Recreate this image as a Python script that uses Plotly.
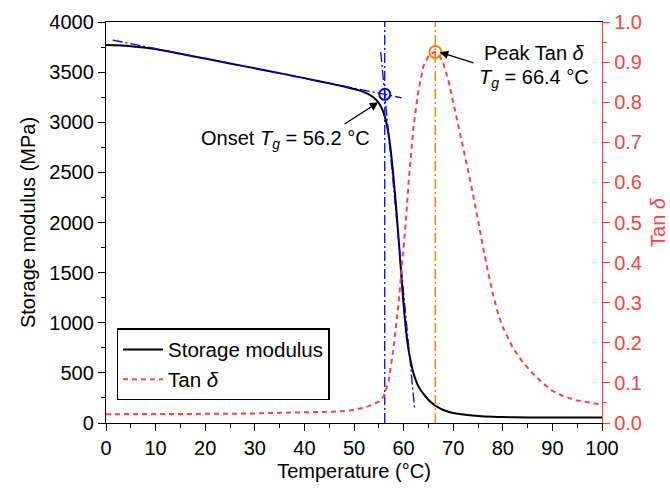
import plotly.graph_objects as go

# ---------------- data ----------------
temp_E = [0, 2, 4, 6, 8, 10, 15, 20, 25, 30, 35, 40, 45, 48, 50, 51, 52, 53, 54, 54.5, 55, 55.5,
          56, 56.5, 57, 57.5, 58, 58.5, 59, 59.5, 60, 60.5, 61, 61.5, 62, 62.5, 63, 64, 65,
          66, 67, 68, 69, 70, 72, 75, 78, 80, 85, 90, 95, 100]
storage_modulus = [3770, 3768, 3762, 3752, 3742, 3730, 3683, 3635, 3587, 3538, 3490, 3440, 3388,
                   3356, 3332, 3318, 3300, 3278, 3245, 3222, 3192, 3150, 3090, 3000, 2870, 2680,
                   2430, 2150, 1830, 1500, 1180, 920, 730, 600, 495, 420, 365, 290, 232, 188, 155,
                   130, 113, 100, 84, 70, 62, 59, 56, 55, 55, 56]

temp_tan = [0, 5, 10, 15, 20, 25, 30, 35, 40, 45, 48, 50, 52, 54, 55, 56, 57, 58, 59, 60, 60.5,
            61, 61.5, 62, 63, 64, 65, 66, 66.4, 67, 68, 69, 70, 71, 72, 73, 74, 75, 76, 77, 78,
            79, 80, 82, 84, 86, 88, 90, 92, 95, 100]
tan_delta = [0.022, 0.022, 0.022, 0.022, 0.023, 0.023, 0.024, 0.025, 0.026, 0.028, 0.030, 0.033,
             0.038, 0.047, 0.054, 0.066, 0.105, 0.19, 0.30, 0.43, 0.51, 0.60, 0.67, 0.74, 0.83,
             0.89, 0.915, 0.924, 0.925, 0.921, 0.897, 0.856, 0.80, 0.745, 0.69, 0.63, 0.57, 0.50,
             0.44, 0.378, 0.322, 0.275, 0.238, 0.188, 0.152, 0.124, 0.100, 0.080, 0.068, 0.056,
             0.046]

onset_tg = 56.2
onset_E = 3279
peak_tg = 66.4
peak_tan = 0.925

glassy_tangent_T = [1.35, 59.6]
glassy_tangent_E = [3820, 3244]
steep_tangent_T = [55.39, 62.25]
steep_tangent_E = [3700, 130]

x_ticks = list(range(0, 101, 10))
y1_ticks = list(range(0, 4001, 500))
y2_ticks = [round(i * 0.1, 1) for i in range(11)]

# ---------------- style ----------------
FONT = "Arial, Liberation Sans, sans-serif"
RED = "#ff4040"
BLUE = "#0000ff"
ORANGE = "#ff8000"
DASHDOT = "10px,3px,2px,3px"

fig = go.Figure()

fig.add_trace(go.Scatter(x=temp_tan, y=tan_delta, yaxis="y2", mode="lines",
                         name="Tan <i>δ</i>", line=dict(color=RED, width=2, dash="5px,4px")))
fig.add_trace(go.Scatter(x=temp_E, y=storage_modulus, mode="lines", name="Storage modulus",
                         line=dict(color="black", width=2, shape="spline", smoothing=0.6)))

# vertical reference lines
fig.add_trace(go.Scatter(x=[onset_tg, onset_tg], y=[y1_ticks[0], y1_ticks[-1]], mode="lines",
                         showlegend=False, line=dict(color=BLUE, width=1.3, dash=DASHDOT)))
fig.add_trace(go.Scatter(x=[peak_tg, peak_tg], y=[y1_ticks[0], y1_ticks[-1]], mode="lines",
                         showlegend=False, line=dict(color=ORANGE, width=1.5, dash=DASHDOT)))
# tangents
fig.add_trace(go.Scatter(x=glassy_tangent_T, y=glassy_tangent_E, mode="lines", showlegend=False,
                         line=dict(color=BLUE, width=1.3, dash=DASHDOT)))
fig.add_trace(go.Scatter(x=steep_tangent_T, y=steep_tangent_E, mode="lines", showlegend=False,
                         line=dict(color=BLUE, width=1.3, dash=DASHDOT)))
# markers
fig.add_trace(go.Scatter(x=[onset_tg], y=[onset_E], mode="markers", showlegend=False,
                         marker=dict(symbol="circle-open", size=11, color=BLUE, line=dict(width=2, color=BLUE))))
fig.add_trace(go.Scatter(x=[peak_tg], y=[peak_tan], yaxis="y2", mode="markers", showlegend=False,
                         marker=dict(symbol="circle-open", size=12, color=ORANGE, line=dict(width=2, color=ORANGE))))

# annotations
fig.add_annotation(x=54.9, y=3199, ax=47.8, ay=2973, xref="x", yref="y", axref="x", ayref="y",
                   text="", showarrow=True, arrowhead=2, arrowsize=1.3, arrowwidth=1.3, arrowcolor="black")
fig.add_annotation(x=36.2, y=2823, xref="x", yref="y", showarrow=False,
                   text="Onset <i>T</i><sub><i>g</i></sub> = 56.2 °C", font=dict(size=20, color="black"))
fig.add_annotation(x=67.3, y=3698, ax=74.4, ay=3588, xref="x", yref="y", axref="x", ayref="y",
                   text="", showarrow=True, arrowhead=2, arrowsize=1.3, arrowwidth=1.3, arrowcolor="black")
fig.add_annotation(x=86.3, y=3687, xref="x", yref="y", showarrow=False,
                   text="Peak Tan <i>δ</i>", font=dict(size=20, color="black"))
fig.add_annotation(x=86.3, y=3438, xref="x", yref="y", showarrow=False,
                   text="<i>T</i><sub><i>g</i></sub> = 66.4 °C", font=dict(size=20, color="black"))

axis_common = dict(showgrid=False, zeroline=False, ticks="outside", ticklen=7, tickwidth=1.3,
                   showline=True, linewidth=1.3, automargin=False)

fig.update_layout(
    width=670, height=491,
    margin=dict(l=106, r=68, t=22, b=68),
    paper_bgcolor="white", plot_bgcolor="white",
    font=dict(family=FONT, size=20, color="black"),
    showlegend=True,
    legend=dict(x=0.0216, y=0.236, xanchor="left", yanchor="top", bgcolor="white",
                bordercolor="black", borderwidth=1.3, font=dict(size=20.5, color="black"),
                tracegroupgap=0, itemwidth=40, traceorder="reversed",
                entrywidth=170, entrywidthmode="pixels"),
    xaxis=dict(range=[0, 100], tickvals=x_ticks, linecolor="black", tickcolor="black", mirror=True,
               minor=dict(ticks="outside", ticklen=4, dtick=5, tickcolor="black", tickwidth=1.3),
               title=dict(text="Temperature (°C)", font=dict(size=20), standoff=5),
               tickfont=dict(size=20), **axis_common),
    yaxis=dict(range=[0, 4000], tickvals=y1_ticks, linecolor="black", tickcolor="black",
               minor=dict(ticks="outside", ticklen=4, dtick=250, tickcolor="black", tickwidth=1.3),
               title=dict(text="Storage modulus (MPa)", font=dict(size=20), standoff=8),
               tickfont=dict(size=20), **axis_common),
    yaxis2=dict(range=[0, 1], tickvals=y2_ticks, tickformat=".1f", overlaying="y", side="right",
                linecolor=RED, tickcolor=RED,
                minor=dict(ticks="outside", ticklen=4, dtick=0.05, tickcolor=RED, tickwidth=1.3),
                title=dict(text="Tan <i>δ</i>", font=dict(size=20, color=RED), standoff=10),
                tickfont=dict(size=20, color=RED), **axis_common),
)

fig.write_html("out.html")
